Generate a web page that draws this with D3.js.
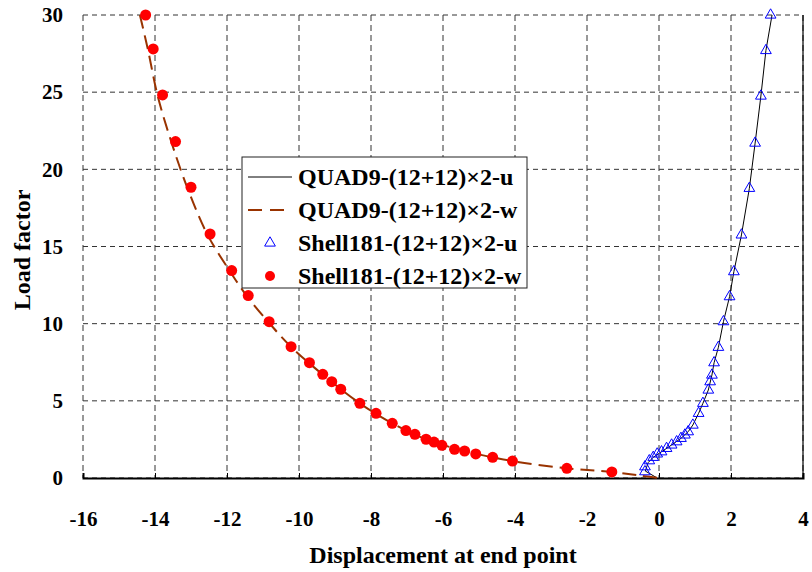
<!DOCTYPE html>
<html>
<head>
<meta charset="utf-8">
<style type="text/css">
  body{
    margin: 0;
    background: white;
  }
  svg text{
    font-family: 'Liberation Serif', 'Times New Roman', serif;
    font-weight: bold;
    fill: black;
  }
</style>
</head>
<body>
<script src="https://cdn.jsdelivr.net/npm/d3@7/dist/d3.min.js"></script>
<svg id="chart" width="812" height="572"></svg>
<script>

// Shell181 u (triangles)
var shellU_x = [-0.39, -0.39, -0.27, -0.16, -0.05, 0.07, 0.21, 0.35, 0.49, 0.61, 0.72, 0.81, 0.94, 1.10, 1.22, 1.37, 1.42, 1.47, 1.53, 1.65, 1.79, 1.96, 2.08, 2.29, 2.51, 2.67, 2.83, 2.97, 3.10];
var shellU_y = [0.41, 0.73, 1.12, 1.34, 1.56, 1.70, 1.92, 2.14, 2.35, 2.57, 2.79, 3.00, 3.43, 4.19, 4.84, 5.70, 6.24, 6.67, 7.47, 8.47, 10.13, 11.75, 13.37, 15.75, 18.77, 21.70, 24.75, 27.70, 30.0];

// QUAD9 u (solid line)
var quadU_x = [-0.05, -0.38, -0.30, -0.16, 0.07, 0.35, 0.61, 0.81, 0.94, 1.10, 1.22, 1.37, 1.47, 1.53, 1.65, 1.79, 1.96, 2.08, 2.29, 2.51, 2.67, 2.83, 2.97, 3.14];
var quadU_y = [0.0, 0.45, 1.0, 1.34, 1.70, 2.14, 2.57, 3.00, 3.43, 4.19, 4.84, 5.70, 6.67, 7.47, 8.47, 10.13, 11.75, 13.37, 15.75, 18.77, 21.70, 24.75, 27.70, 30.0];

// Shell181 w (dots)
var shellW_x = [-14.26, -14.05, -13.79, -13.43, -13.00, -12.47, -11.87, -11.41, -10.83, -10.22, -9.71, -9.34, -9.09, -8.84, -8.31, -7.86, -7.41, -7.03, -6.78, -6.47, -6.25, -6.03, -5.68, -5.40, -5.09, -4.62, -4.07, -2.56, -1.31];
var shellW_y = [30.0, 27.8, 24.82, 21.8, 18.84, 15.81, 13.44, 11.82, 10.13, 8.51, 7.47, 6.72, 6.24, 5.75, 4.84, 4.19, 3.54, 3.07, 2.83, 2.51, 2.33, 2.12, 1.86, 1.75, 1.56, 1.34, 1.10, 0.63, 0.39];

// QUAD9 w (dashed line)
var quadW_x = [-14.42, -14.2, -13.93, -13.55, -13.1, -12.55, -11.92, -11.45, -10.85, -10.22, -9.34, -8.31, -7.41, -6.47, -5.40, -4.07, -2.56, -1.31, -0.5, 0.0];
var quadW_y = [30.0, 27.8, 24.8, 21.8, 18.8, 15.8, 13.4, 11.8, 10.1, 8.5, 6.7, 4.84, 3.54, 2.51, 1.75, 1.10, 0.63, 0.39, 0.15, 0.0];

var xTicks = [-16, -14, -12, -10, -8, -6, -4, -2, 0, 2, 4];
var yTicks = [0, 5, 10, 15, 20, 25, 30];

var legendNames = ['QUAD9-(12+12)\u00d72-u', 'QUAD9-(12+12)\u00d72-w', 'Shell181-(12+12)\u00d72-u', 'Shell181-(12+12)\u00d72-w'];

var serif = "'Liberation Serif', 'Times New Roman', serif";

var margin = {left: 83, right: 9, top: 15, bottom: 94};
var width = 812 - margin.left - margin.right;
var height = 572 - margin.top - margin.bottom;

var svg = d3.select('#chart');
var g = svg.append('g').attr('transform', 'translate(' + margin.left + ',' + margin.top + ')');

var x = d3.scaleLinear().domain([-16, 4]).range([0, width]);
var y = d3.scaleLinear().domain([0, 30]).range([height, 0]);

// grid
g.selectAll('.vgrid').data(xTicks).enter().append('line')
  .attr('x1', function(d) { return x(d); })
  .attr('x2', function(d) { return x(d); })
  .attr('y1', 0).attr('y2', height)
  .attr('stroke', '#333').attr('stroke-dasharray', '6,4');

g.selectAll('.hgrid').data(yTicks).enter().append('line')
  .attr('x1', 0).attr('x2', width)
  .attr('y1', function(d) { return y(d); })
  .attr('y2', function(d) { return y(d); })
  .attr('stroke', '#333').attr('stroke-dasharray', '5,4');

// right border
g.append('line').attr('x1', width).attr('x2', width).attr('y1', 0).attr('y2', height)
  .attr('stroke', 'black').attr('stroke-width', 1.2);

// x axis
var xAxis = d3.axisBottom(x).tickValues(xTicks).tickSize(-5).tickPadding(33)
  .tickFormat(function(d) { return String(d); });
var xg = g.append('g').attr('transform', 'translate(0,' + height + ')').call(xAxis);
xg.attr('font-family', null).attr('font-size', null);
xg.select('.domain').attr('stroke-width', 2);
xg.selectAll('text')
  .style('font-family', serif).style('font-weight', 'bold').style('font-size', '21px');

// y axis labels
var yAxis = d3.axisLeft(y).tickValues(yTicks).tickSize(0).tickPadding(20)
  .tickFormat(function(d) { return String(d); });
var yg = g.append('g').call(yAxis);
yg.attr('font-family', null).attr('font-size', null);
yg.select('.domain').remove();
yg.selectAll('text')
  .style('font-family', serif).style('font-weight', 'bold').style('font-size', '21px');

// lines
var lineU = d3.line()
  .x(function(d, i) { return x(quadU_x[i]); })
  .y(function(d, i) { return y(quadU_y[i]); });

g.append('path').datum(quadU_x)
  .attr('d', lineU)
  .attr('fill', 'none').attr('stroke', 'black').attr('stroke-width', 1);

var lineW = d3.line()
  .curve(d3.curveCatmullRom)
  .x(function(d, i) { return x(quadW_x[i]); })
  .y(function(d, i) { return y(quadW_y[i]); });

g.append('path').datum(quadW_x)
  .attr('d', lineW)
  .attr('fill', 'none').attr('stroke', '#993300').attr('stroke-width', 2)
  .attr('stroke-dasharray', '14,7');

// markers
var tri = d3.symbol().type(d3.symbolTriangle).size(50);

g.selectAll('.tri').data(shellU_x).enter().append('path')
  .attr('d', tri)
  .attr('transform', function(d, i) { return 'translate(' + x(d) + ',' + y(shellU_y[i]) + ')'; })
  .attr('fill', 'none').attr('stroke', '#0000ff').attr('stroke-width', 1);

g.selectAll('.dot').data(shellW_x).enter().append('circle')
  .attr('cx', function(d) { return x(d); })
  .attr('cy', function(d, i) { return y(shellW_y[i]); })
  .attr('r', 5.5)
  .attr('fill', '#ff0000');

// axis titles
svg.append('text')
  .attr('x', 443)
  .attr('y', 563)
  .attr('text-anchor', 'middle')
  .style('font-size', '24px')
  .text('Displacement at end point');

svg.append('text')
  .attr('transform', 'translate(30,250) rotate(-90)')
  .attr('text-anchor', 'middle')
  .style('font-size', '24px')
  .text('Load factor');

// legend
var legend = svg.append('g').attr('transform', 'translate(242,157)');
legend.append('rect')
  .attr('width', 285).attr('height', 131)
  .attr('fill', 'white').attr('stroke', '#222').attr('stroke-width', 1);

var rowY = function(i) { return 20 + i * 33; };

legend.append('line').attr('x1', 6).attr('x2', 50).attr('y1', rowY(0)).attr('y2', rowY(0))
  .attr('stroke', 'black').attr('stroke-width', 1);
legend.append('line').attr('x1', 6).attr('x2', 50).attr('y1', rowY(1)).attr('y2', rowY(1))
  .attr('stroke', '#993300').attr('stroke-width', 2).attr('stroke-dasharray', '14,8');
legend.append('path').attr('d', tri)
  .attr('transform', 'translate(28,' + rowY(2) + ')')
  .attr('fill', 'none').attr('stroke', '#0000ff');
legend.append('circle').attr('cx', 28).attr('cy', rowY(3)).attr('r', 5)
  .attr('fill', '#ff0000');

legend.selectAll('.ltext').data(legendNames).enter().append('text')
  .attr('x', 56)
  .attr('y', function(d, i) { return rowY(i); })
  .attr('dy', '0.35em')
  .style('font-size', '24px')
  .text(function(d) { return d; });

</script>
</body>
</html>
